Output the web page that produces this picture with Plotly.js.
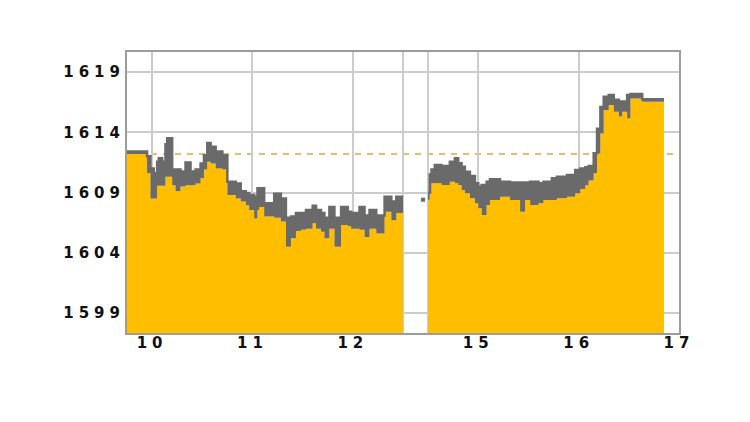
<!DOCTYPE html>
<html>
<head>
<meta charset="utf-8">
<script src="https://cdn.plot.ly/plotly-3.0.1.min.js"></script>
<style>
  html, body { margin: 0; padding: 0; background: #ffffff; }
  #chart { width: 750px; height: 422px; }
  .xtick text, .ytick text { letter-spacing: 5px; }
</style>
</head>
<body>
<div id="chart"></div>
<script>
// ---- data ----
const tradeDay = '2024-01-10';

const amTime = ['09:45','09:57','09:59','10:01','10:03','10:04','10:06','10:08','10:09','10:12',
                '10:14','10:17','10:20','10:23','10:26','10:29','10:31','10:33','10:35','10:38',
                '10:42','10:45','10:50','10:53','10:56','10:58','11:01','11:03','11:04','11:07',
                '11:13','11:17','11:20','11:23','11:26','11:29','11:32','11:36','11:38','11:41',
                '11:43','11:46','11:49','11:53','11:57','11:59','12:04','12:07','12:10','12:14',
                '12:19','12:23','12:26','12:30'];
const amHigh = [1612.4,1612.0,1611.0,1610.6,1611.55,1611.85,1611.55,1613.0,1613.5,1610.9,
                1610.9,1610.75,1611.5,1610.75,1610.9,1611.4,1612.1,1613.1,1612.8,1612.4,
                1612.1,1609.9,1609.75,1609.1,1608.95,1608.8,1608.65,1609.35,1609.35,1608.1,
                1608.9,1608.5,1606.9,1607.0,1607.3,1607.3,1607.55,1607.9,1607.55,1607.3,
                1606.9,1607.8,1606.9,1607.8,1607.4,1607.3,1607.8,1607.1,1607.55,1607.1,
                1608.65,1608.25,1608.65,1608.65];
const amLow  = [1612.2,1610.6,1608.5,1608.5,1609.55,1609.55,1609.55,1610.3,1610.3,1609.6,
                1609.1,1609.5,1609.6,1609.6,1609.75,1610.2,1610.9,1611.55,1611.4,1611.0,
                1610.9,1608.8,1608.5,1608.25,1607.95,1607.55,1606.85,1607.55,1607.8,1607.0,
                1606.9,1606.6,1604.5,1605.2,1605.8,1605.9,1606.0,1606.45,1606.0,1605.75,
                1605.2,1606.0,1604.5,1606.3,1606.2,1606.0,1605.9,1605.3,1606.0,1605.6,
                1607.4,1606.7,1607.3,1607.3];

const pmTime = ['14:30','14:31','14:32','14:34','14:38','14:43','14:46','14:48','14:50','14:52',
                '14:55','14:58','15:00','15:02','15:05','15:07','15:13','15:19','15:25','15:28',
                '15:31','15:36','15:39','15:44','15:47','15:53','15:58','16:01','16:04','16:06',
                '16:09','16:11','16:13','16:15','16:18','16:21','16:24','16:26','16:29','16:31',
                '16:38','16:51'];
const pmHigh = [1609.0,1610.5,1610.9,1611.28,1611.2,1611.56,1611.84,1611.42,1611.14,1610.73,
                1610.37,1609.76,1609.48,1609.62,1609.9,1610.09,1609.9,1609.84,1609.84,1609.82,
                1609.9,1609.76,1609.9,1610.18,1610.31,1610.45,1610.87,1611.0,1611.1,1611.2,
                1612.25,1614.3,1616.1,1616.95,1617.1,1616.7,1616.55,1616.55,1617.1,1617.17,
                1616.73,1616.73];
const pmLow  = [1608.4,1608.9,1609.76,1609.76,1609.62,1609.9,1609.76,1609.62,1609.21,1608.93,
                1608.52,1608.1,1607.69,1607.13,1607.96,1608.38,1608.65,1608.38,1607.41,1608.38,
                1607.96,1608.1,1608.38,1608.38,1608.52,1608.65,1608.93,1609.3,1609.6,1610.0,
                1610.6,1612.25,1613.9,1615.85,1616.26,1615.7,1615.3,1615.7,1615.15,1616.81,
                1616.54,1616.54];

const preOpenTime = ['14:27'];
const preOpenValue = [1608.4];

const prevClose = 1612.2;

const yTickVals = [1599, 1604, 1609, 1614, 1619];
const xTickTimes = ['10:00','11:00','12:00','12:30','14:30','15:00','16:00','17:00'];
const xTickText  = ['10','11','12','','','15','16','17'];

// ---- styling ----
const YELLOW = '#ffbe00';
const GRAY = '#6a6a6a';
const stamp = t => tradeDay + ' ' + t;

function session(times, low, high) {
  const x = times.map(stamp);
  return [
    { x: x, y: low, type: 'scatter', mode: 'lines',
      line: { shape: 'hv', width: 0, color: YELLOW },
      fill: 'tozeroy', fillcolor: YELLOW, hoverinfo: 'skip' },
    { x: x, y: high, type: 'scatter', mode: 'lines',
      line: { shape: 'hv', width: 2.5, color: GRAY },
      fill: 'tonexty', fillcolor: GRAY, hoverinfo: 'skip' }
  ];
}

const data = [
  ...session(amTime, amLow, amHigh),
  ...session(pmTime, pmLow, pmHigh),
  { x: preOpenTime.map(stamp), y: preOpenValue, type: 'scatter', mode: 'markers',
    marker: { symbol: 'square', size: 4, color: GRAY }, hoverinfo: 'skip' }
];

const tickFont = { family: 'DejaVu Sans, Verdana, sans-serif', size: 15, color: '#111111', weight: 'bold' };

const layout = {
  width: 750, height: 422,
  margin: { l: 127, r: 71, t: 52, b: 89 },
  paper_bgcolor: '#ffffff', plot_bgcolor: '#ffffff',
  showlegend: false,
  xaxis: {
    type: 'date',
    range: [stamp('09:45'), stamp('17:00')],
    rangebreaks: [{ bounds: [stamp('12:37:30'), stamp('14:22:30')] }],
    tickmode: 'array',
    tickvals: xTickTimes.map(stamp),
    ticktext: xTickText,
    tickfont: tickFont,
    ticklabelstandoff: -5,
    showgrid: true, gridcolor: '#cccccc', gridwidth: 2,
    showline: true, linecolor: '#9c9c9c', linewidth: 2, mirror: true,
    ticks: '', zeroline: false, fixedrange: true
  },
  yaxis: {
    range: [1597.34, 1620.66],
    tickmode: 'array',
    tickvals: yTickVals,
    ticktext: yTickVals.map(String),
    tickfont: tickFont,
    ticklabelstandoff: -3,
    showgrid: true, gridcolor: '#cccccc', gridwidth: 2,
    showline: true, linecolor: '#9c9c9c', linewidth: 2, mirror: true,
    ticks: '', zeroline: false, fixedrange: true
  },
  shapes: [{
    type: 'line', xref: 'paper', x0: 0, x1: 1, yref: 'y', y0: prevClose, y1: prevClose,
    line: { color: '#e3a53a', width: 1.5, dash: '6px,6px' }, layer: 'below'
  }]
};

Plotly.newPlot('chart', data, layout, { staticPlot: true, displayModeBar: false });
</script>
</body>
</html>
